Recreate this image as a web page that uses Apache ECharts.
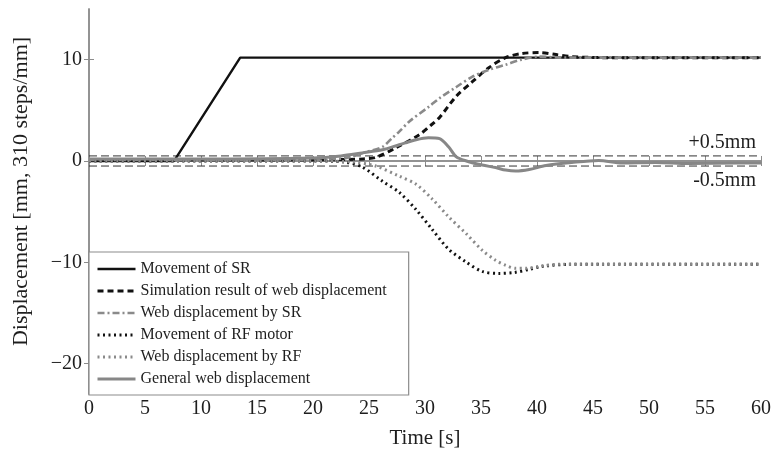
<!DOCTYPE html>
<html>
<head>
<meta charset="utf-8">
<script src="https://cdn.jsdelivr.net/npm/echarts@6/dist/echarts.min.js"></script>
<style>html,body{margin:0;padding:0;background:#fff}#c{width:774px;height:454px}</style>
</head>
<body>
<div id="c"></div>
<script>
// ---- data (time in s, displacement in mm) ----
const xTicks = [0, 5, 10, 15, 20, 25, 30, 35, 40, 45, 50, 55, 60];
const yTicks = [-20, -10, 0, 10];

const srT = [0, 7.6, 13.5, 60];
const srY = [0, 0, 10.2, 10.2];

const simT = [0, 10, 20, 23, 24.5, 25.6, 27.4, 29.5, 30.6, 31.3, 32.8, 34.2, 35.7, 37.2, 38.6, 40.2, 41.7, 43.1, 46, 60];
const simY = [0.1, 0.1, 0.1, 0.15, 0.2, 0.35, 1.3, 2.6, 3.6, 4.3, 6.4, 7.8, 9.2, 10.2, 10.6, 10.7, 10.5, 10.3, 10.2, 10.2];

const webSrT = [0, 20, 23, 24.5, 26.2, 27.1, 27.7, 28.6, 30.4, 31.3, 32.8, 34.2, 35.7, 37.2, 38.6, 40.2, 42, 60];
const webSrY = [0.1, 0.1, 0.3, 0.8, 1.4, 2.3, 2.9, 3.9, 5.4, 6.2, 7.3, 8.3, 9.0, 9.5, 10.0, 10.3, 10.2, 10.2];

const rfT = [0, 20, 22.8, 24.4, 26.2, 27.7, 29.2, 30.6, 32.1, 33.7, 35.1, 36.6, 38, 39.3, 40.5, 43, 46, 60];
const rfY = [0, 0, -0.1, -0.6, -2.0, -3.1, -4.8, -6.7, -8.7, -10.0, -10.9, -11.1, -11.0, -10.7, -10.4, -10.2, -10.2, -10.2];

const webRfT = [0, 20, 23.5, 25.6, 27.7, 29.2, 30.6, 32.1, 33.7, 35.1, 36.3, 37.2, 38.1, 39, 40.2, 42, 60];
const webRfY = [0, 0, -0.1, -0.5, -1.5, -2.3, -3.7, -5.5, -7.2, -8.8, -9.8, -10.3, -10.6, -10.6, -10.4, -10.2, -10.2];

const genT = [0, 10, 20, 22.5, 24.4, 26.2, 27.7, 29.2, 30.3, 31.3, 32.1, 32.8, 33.7, 35.1, 36.3, 37.2, 38.1, 39.3, 40.8, 43.1, 45.5, 47.6, 50.6, 53.5, 58, 60];
const genY = [0.2, 0.2, 0.3, 0.5, 0.8, 1.1, 1.6, 2.1, 2.3, 2.2, 1.4, 0.4, 0.0, -0.4, -0.65, -0.9, -1.0, -0.85, -0.45, -0.15, 0.05, -0.2, -0.15, -0.25, -0.2, -0.2];

const tolT = [0, 60];
const tolUp = [0.5, 0.5];
const tolDn = [-0.5, -0.5];

const names = ['Movement of SR', 'Simulation result of web displacement', 'Web displacement by SR',
  'Movement of RF motor', 'Web displacement by RF', 'General web displacement'];

// ---- build ----
const zip = (t, v) => t.map((x, i) => [x, v[i]]);
const FONT = '"Liberation Serif", "DejaVu Serif", serif';
const AX = '#8c8c8c';
const TXT = '#1e1e1e';
const minus = v => String(v).replace('-', '\u2212');

function lineSeries(name, data, color, width, dash) {
  return {
    name, type: 'line', data, showSymbol: false, symbol: 'none', smooth: 0.3,
    lineStyle: { color, width, type: dash, cap: 'butt' },
    itemStyle: { color }, z: 3, animation: false
  };
}

const series = [
  lineSeries(names[0], zip(srT, srY), '#111', 2.4, 'solid'),
  lineSeries(names[1], zip(simT, simY), '#111', 3, [6, 4]),
  lineSeries(names[2], zip(webSrT, webSrY), '#8a8a8a', 2.6, [7, 3, 2, 3]),
  lineSeries(names[3], zip(rfT, rfY), '#111', 3, [2, 3.5]),
  lineSeries(names[4], zip(webRfT, webRfY), '#8a8a8a', 3, [2, 3.5]),
  lineSeries(names[5], zip(genT, genY), '#878787', 3, 'solid'),
];
series[0].smooth = false;

function tolSeries(data, text, vAlign, offY) {
  return {
    name: text, type: 'line', data, showSymbol: false, symbol: 'none',
    lineStyle: { color: '#333', width: 1, type: [8, 4] }, z: 2, animation: false,
    markPoint: {
      symbol: 'circle', symbolSize: 0.1, itemStyle: { color: 'transparent' },
      data: [{ coord: data[data.length - 1] }],
      label: { show: true, formatter: text, position: [0, 0], align: 'right', verticalAlign: vAlign,
        offset: [-5, offY], color: TXT, fontFamily: FONT, fontSize: 20 }
    }
  };
}
series.push(tolSeries(zip(tolT, tolUp), '+0.5mm', 'bottom', -3));
series.push(tolSeries(zip(tolT, tolDn), '-0.5mm', 'top', 5));

const chart = echarts.init(document.getElementById('c'), null, { renderer: 'canvas' });
chart.setOption({
  backgroundColor: '#fff',
  animation: false,
  grid: { left: 89, right: 11, top: 9, bottom: 59 },
  legend: {
    data: names, orient: 'vertical', left: 89, bottom: 59,
    itemWidth: 38, itemHeight: 16, itemGap: 6,
    padding: [9, 22, 8, 7],
    itemStyle: { opacity: 0 },
    lineStyle: { width: 'inherit' },
    backgroundColor: '#fff', borderColor: '#8c8c8c', borderWidth: 1.2,
    textStyle: { fontFamily: FONT, fontSize: 16, lineHeight: 16, color: TXT },
    selectedMode: false
  },
  xAxis: [{
    type: 'value', min: 0, max: 60, interval: 5,
    name: 'Time [s]', nameLocation: 'middle', nameGap: 34,
    nameTextStyle: { fontFamily: FONT, fontSize: 21, color: TXT },
    axisLine: { show: true, lineStyle: { color: AX, width: 1.5 } },
    axisTick: { show: true, inside: true, length: 5, lineStyle: { color: AX } },
    axisLabel: { fontFamily: FONT, fontSize: 20, color: TXT, margin: 5,
      customValues: xTicks, formatter: minus },
    splitLine: { show: false }
  }, {
    type: 'value', min: 0, max: 60, interval: 5, position: 'top',
    axisLine: { show: true, lineStyle: { color: AX, width: 1.5 } },
    axisTick: { show: true, inside: true, length: 5, lineStyle: { color: AX } },
    axisLabel: { show: false }, splitLine: { show: false }
  }],
  yAxis: [{
    type: 'value', min: -23, max: 15,
    name: 'Displacement [mm, 310 steps/mm]', nameLocation: 'middle', nameGap: 57,
    nameTextStyle: { fontFamily: FONT, fontSize: 22, color: TXT, padding: [0, 0, 0, 20] },
    axisLine: { show: true, lineStyle: { color: AX, width: 1.5 } },
    axisTick: { show: true, inside: true, length: 5, lineStyle: { color: AX }, customValues: yTicks },
    axisLabel: { fontFamily: FONT, fontSize: 20, color: TXT, margin: 7,
      customValues: yTicks, formatter: minus },
    splitLine: { show: false }
  }, {
    type: 'value', min: -23, max: 15, position: 'right',
    axisLine: { show: true, lineStyle: { color: AX, width: 1.5 } },
    axisTick: { show: true, inside: true, length: 5, lineStyle: { color: AX }, customValues: yTicks },
    axisLabel: { show: false }, splitLine: { show: false }
  }],
  series
});
</script>
</body>
</html>
